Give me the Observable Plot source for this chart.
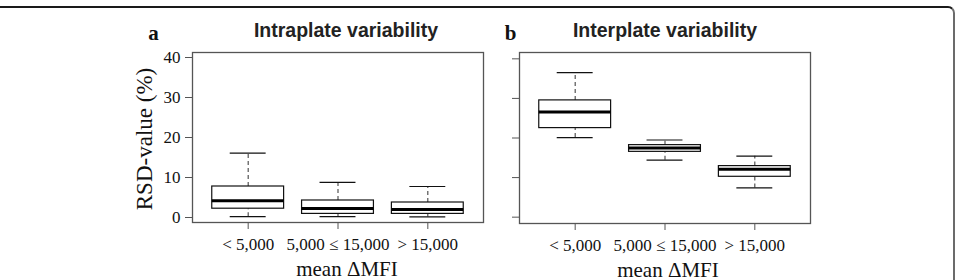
<!DOCTYPE html>
<html><head><meta charset="utf-8">
<script src="https://cdn.jsdelivr.net/npm/d3@7"></script>
<script src="https://cdn.jsdelivr.net/npm/@observablehq/plot@0.6"></script>
<style>
html,body{margin:0;padding:0;background:#fff;width:957px;height:280px;overflow:hidden;}
#wrap{position:relative;width:957px;height:280px;}
#frame{position:absolute;left:-10px;top:6px;width:965px;height:300px;border-top:2px solid #1a1a1a;border-right:2px solid #6b6b6b;border-top-right-radius:7px;box-sizing:border-box;}
#pa{position:absolute;left:0;top:0;}
#pb{position:absolute;left:490px;top:0;}
#ylab{position:absolute;left:144px;top:139px;transform:translate(-50%,-50%) rotate(-90deg);white-space:nowrap;
  font-family:'Liberation Serif','Times New Roman',serif;font-size:23px;color:#111;line-height:1;}
</style></head><body>
<div id="wrap"><div id="frame"></div><div id="pa"></div><div id="pb"></div><div id="ylab"></div></div>
<script>
const categories = ["< 5,000", "5,000 \u2264 15,000", "> 15,000"];
const yTicks = [0, 10, 20, 30, 40];
const yLabel = "RSD-value (%)";
const xLabel = "mean \u0394MFI";
// Panel a: intraplate variability (RSD %)
const intraLow  = [0.2, 0.2, 0.15];
const intraQ1   = [2.2, 0.9, 0.9];
const intraMed  = [4.2, 2.25, 2.0];
const intraQ3   = [7.75, 4.25, 3.75];
const intraHigh = [16.1, 8.8, 7.75];
// Panel b: interplate variability (RSD %)
const interLow  = [20.1, 14.4, 7.4];
const interQ1   = [22.5, 16.5, 10.2];
const interMed  = [26.6, 17.5, 12.1];
const interQ3   = [29.5, 18.2, 12.9];
const interHigh = [36.5, 19.5, 15.4];

const SERIF = "'Liberation Serif','Times New Roman',serif";
const SANS = "'Liberation Sans',Arial,sans-serif";

function panel(o) {
  const rows = categories.map((c, i) => ({
    i: i + 1, c, lo: o.lo[i], q1: o.q1[i], med: o.med[i], q3: o.q3[i], hi: o.hi[i]
  }));
  const bw = 0.4, cw = 0.2;
  const marks = [
    Plot.frame({stroke: "#555", strokeWidth: 1.3}),
    Plot.ruleX(rows, {x: "i", y1: "q3", y2: "hi", stroke: "#444", strokeWidth: 1.1, strokeDasharray: "4,3"}),
    Plot.ruleX(rows, {x: "i", y1: "lo", y2: "q1", stroke: "#444", strokeWidth: 1.1, strokeDasharray: "4,3"}),
    Plot.ruleY(rows, {y: "hi", x1: d => d.i - cw, x2: d => d.i + cw, stroke: "#111", strokeWidth: 1.2}),
    Plot.ruleY(rows, {y: "lo", x1: d => d.i - cw, x2: d => d.i + cw, stroke: "#111", strokeWidth: 1.2}),
    Plot.rect(rows, {x1: d => d.i - bw, x2: d => d.i + bw, y1: "q1", y2: "q3", fill: "white", stroke: "#111", strokeWidth: 1.2}),
    Plot.ruleY(rows, {y: "med", x1: d => d.i - bw, x2: d => d.i + bw, stroke: "#000", strokeWidth: 3}),
    Plot.axisX({ticks: [1, 2, 3], tickFormat: d => categories[d - 1], tickSize: 7, tickPadding: 8,
      fontSize: 17, fontFamily: SERIF, stroke: "#555", fill: "#111", label: null}),
    Plot.axisY({ticks: yTicks, tickSize: 7, tickPadding: 5, tickFormat: o.showY ? (d => d) : (() => ""),
      fontSize: 17, fontFamily: SERIF, stroke: "#555", fill: "#111", label: null}),
    Plot.text([o.title], {frameAnchor: "top", dx: o.titleDx, dy: -16, lineAnchor: "bottom",
      fontFamily: SANS, fontWeight: "bold", fontSize: 19.5, fill: "#222", text: d => d}),
    Plot.text([o.letter], {frameAnchor: "top-left", dx: o.letterDx, dy: -13, lineAnchor: "bottom", textAnchor: "middle",
      fontFamily: SERIF, fontWeight: "bold", fontSize: 21, fill: "#111", text: d => d}),
    Plot.text([xLabel], {frameAnchor: "bottom", dx: o.xlabDx, dy: 53, lineAnchor: "bottom",
      fontFamily: SERIF, fontSize: 21, fill: "#111", text: d => d})
  ];
  return Plot.plot({
    width: o.width, height: 280,
    marginLeft: o.ml, marginRight: o.mr, marginTop: 52, marginBottom: o.mb,
    style: {background: "transparent", overflow: "visible", fontFamily: SERIF},
    x: {domain: [0.38, 3.62]},
    y: {domain: o.domain},
    marks
  });
}

document.getElementById("ylab").textContent = yLabel;
document.getElementById("pa").append(panel({
  lo: intraLow, q1: intraQ1, med: intraMed, q3: intraQ3, hi: intraHigh,
  domain: [-1.25, 41.25], width: 490, ml: 192, mr: 7, mb: 58,
  title: "Intraplate variability", letter: "a", titleDx: 8, letterDx: -39, xlabDx: 9, showY: true
}));
document.getElementById("pb").append(panel({
  lo: interLow, q1: interQ1, med: interMed, q3: interQ3, hi: interHigh,
  domain: [-1.6, 41.6], width: 467, ml: 29, mr: 147, mb: 57,
  title: "Interplate variability", letter: "b", titleDx: 0, letterDx: -9, xlabDx: 3, showY: false
}));
</script>
</body></html>
